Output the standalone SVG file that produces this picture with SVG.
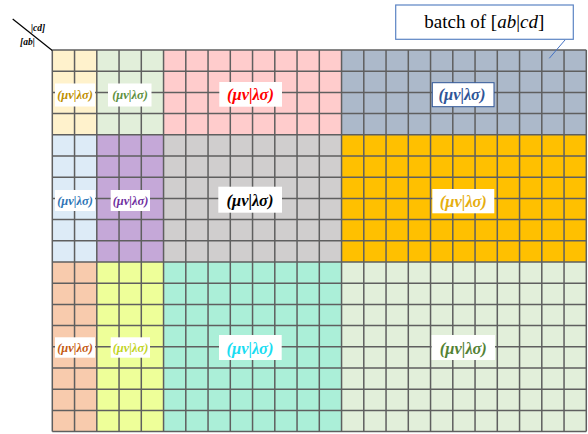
<svg xmlns="http://www.w3.org/2000/svg" width="588" height="434" viewBox="0 0 588 434">
<style>
.lbl{font-family:"Liberation Serif","DejaVu Serif",serif;font-style:italic;font-weight:bold;text-anchor:middle}
.big{font-size:16.5px}
.sm{font-size:12.5px}
.box{fill:#ffffff}
.grid{fill:none;stroke:#5f5f5f;stroke-width:1.5}
</style>
<rect width="588" height="434" fill="#ffffff"/>
<g id="blocks">
<rect x="52.3" y="50" width="44.5" height="84.8" fill="#FFF2CC"/>
<rect x="96.8" y="50" width="66.75" height="84.8" fill="#E2EFDA"/>
<rect x="163.55" y="50" width="178" height="84.8" fill="#FFCCCC"/>
<rect x="341.55" y="50" width="244.75" height="84.8" fill="#ACB9CA"/>
<rect x="52.3" y="134.8" width="44.5" height="127.2" fill="#DDEBF7"/>
<rect x="96.8" y="134.8" width="66.75" height="127.2" fill="#C5A8D8"/>
<rect x="163.55" y="134.8" width="178" height="127.2" fill="#D0CECE"/>
<rect x="341.55" y="134.8" width="244.75" height="127.2" fill="#FFC000"/>
<rect x="52.3" y="262" width="44.5" height="169.6" fill="#F8CBAD"/>
<rect x="96.8" y="262" width="66.75" height="169.6" fill="#EEFF99"/>
<rect x="163.55" y="262" width="178" height="169.6" fill="#ABEFD8"/>
<rect x="341.55" y="262" width="244.75" height="169.6" fill="#E2EFDA"/>
</g>
<g id="grid">
<path class="grid" d="M52.3 50V431.6M74.55 50V431.6M96.8 50V431.6M119.05 50V431.6M141.3 50V431.6M163.55 50V431.6M185.8 50V431.6M208.05 50V431.6M230.3 50V431.6M252.55 50V431.6M274.8 50V431.6M297.05 50V431.6M319.3 50V431.6M341.55 50V431.6M363.8 50V431.6M386.05 50V431.6M408.3 50V431.6M430.55 50V431.6M452.8 50V431.6M475.05 50V431.6M497.3 50V431.6M519.55 50V431.6M541.8 50V431.6M564.05 50V431.6M586.3 50V431.6"/>
<path class="grid" d="M52.3 50H586.3M52.3 71.2H586.3M52.3 92.4H586.3M52.3 113.6H586.3M52.3 134.8H586.3M52.3 156H586.3M52.3 177.2H586.3M52.3 198.4H586.3M52.3 219.6H586.3M52.3 240.8H586.3M52.3 262H586.3M52.3 283.2H586.3M52.3 304.4H586.3M52.3 325.6H586.3M52.3 346.8H586.3M52.3 368H586.3M52.3 389.2H586.3M52.3 410.4H586.3M52.3 431.6H586.3"/>
</g>
<g id="label-r1c1"><rect class="box" x="55" y="83.5" width="40" height="23"/><text class="lbl sm" x="75" y="99" fill="#BF9000">(μν|λσ)</text></g>
<g id="label-r1c2"><rect class="box" x="108" y="83.5" width="43.5" height="23"/><text class="lbl sm" x="130" y="99" fill="#5E9140">(μν|λσ)</text></g>
<g id="label-r1c3"><rect class="box" x="219.3" y="82" width="62.7" height="24.7"/><text class="lbl big" x="250.5" y="100" fill="#FF0000">(μν|λσ)</text></g>
<g id="label-r1c4"><rect class="box" x="432.3" y="82.7" width="61.7" height="24" stroke="#2F5597" stroke-width="1"/><text class="lbl big" x="462" y="99.5" fill="#2F5597">(μν|λσ)</text></g>
<g id="label-r2c1"><rect class="box" x="55" y="190" width="40" height="21"/><text class="lbl sm" x="75" y="205" fill="#2E75B6">(μν|λσ)</text></g>
<g id="label-r2c2"><rect class="box" x="110.7" y="190" width="39.3" height="21"/><text class="lbl sm" x="130.5" y="205" fill="#7030A0">(μν|λσ)</text></g>
<g id="label-r2c3"><rect class="box" x="218.3" y="186.7" width="63.7" height="26"/><text class="lbl big" x="250" y="205.5" fill="#000000">(μν|λσ)</text></g>
<g id="label-r2c4"><rect class="box" x="432.3" y="189" width="62" height="24.3"/><text class="lbl big" x="463.3" y="206.5" fill="#E6AE10">(μν|λσ)</text></g>
<g id="label-r3c1"><rect class="box" x="55" y="337.3" width="40" height="20.4"/><text class="lbl sm" x="75" y="352" fill="#C55A11">(μν|λσ)</text></g>
<g id="label-r3c2"><rect class="box" x="110.7" y="337.3" width="39.3" height="20.4"/><text class="lbl sm" x="130.5" y="352" fill="#C2D41E">(μν|λσ)</text></g>
<g id="label-r3c3"><rect class="box" x="219" y="335" width="62.7" height="25"/><text class="lbl big" x="250" y="353.5" fill="#1ADDF2">(μν|λσ)</text></g>
<g id="label-r3c4"><rect class="box" x="431.7" y="335" width="63.3" height="25"/><text class="lbl big" x="463.3" y="353.5" fill="#548235">(μν|λσ)</text></g>
<g id="corner">
<line x1="12.7" y1="19" x2="52.3" y2="50.5" stroke="#000000" stroke-width="1.2"/>
<text class="lbl" x="38" y="31" font-size="9.5" fill="#000000">|cd]</text>
<text class="lbl" x="27.5" y="44.5" font-size="9.5" fill="#000000">[ab|</text>
</g>
<g id="connectors">
<line x1="565" y1="40" x2="549.3" y2="58.3" stroke="#4472C4" stroke-width="1"/>
</g>
<g id="batch">
<rect x="395.7" y="5" width="177.6" height="34.3" fill="#ffffff" stroke="#5B84C4" stroke-width="1.2"/>
<text x="484.3" y="28.3" font-family="'Liberation Serif','DejaVu Serif',serif" font-size="19" text-anchor="middle" fill="#000000">batch of <tspan>[</tspan><tspan font-style="italic">ab</tspan><tspan>|</tspan><tspan font-style="italic">cd</tspan><tspan>]</tspan></text>
</g>
</svg>
